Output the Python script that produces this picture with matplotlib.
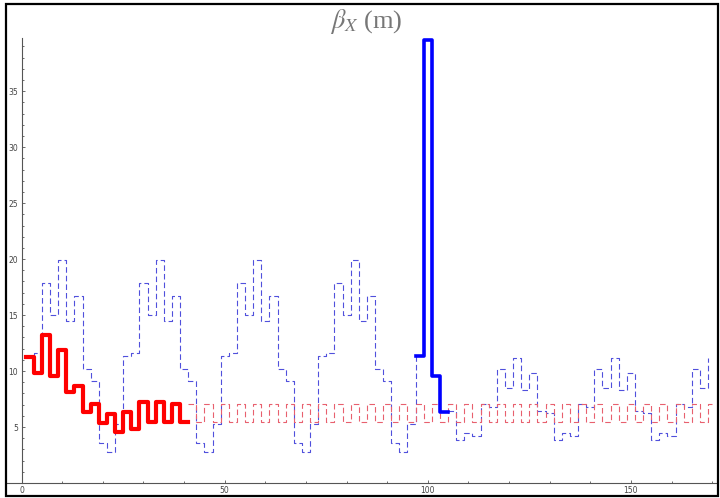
import numpy as np
import matplotlib
matplotlib.use('Agg')
import matplotlib.pyplot as plt
from matplotlib.patches import Rectangle
from matplotlib.ticker import MultipleLocator

plt.rcParams['mathtext.fontset'] = 'stix'
plt.rcParams['lines.scale_dashes'] = False

# beta_x (m) per 2 m slice, slices start at s = 1 m
# reference lattice, first part (4 cells of 24 m), last value closes the step
s_ref_a = np.arange(1, 98, 2)
beta_ref_a = [11.3, 11.6, 17.9, 15.05, 19.9, 14.5, 16.7, 10.2, 9.1, 3.6, 2.8, 5.27,
              11.3, 11.6, 17.9, 15.05, 19.9, 14.5, 16.7, 10.2, 9.1, 3.6, 2.8, 5.27,
              11.3, 11.6, 17.9, 15.05, 19.9, 14.5, 16.7, 10.2, 9.1, 3.6, 2.8, 5.27,
              11.3, 11.6, 17.9, 15.05, 19.9, 14.5, 16.7, 10.2, 9.1, 3.6, 2.8, 5.27,
              11.3]

# insertion
s_ins = np.arange(97, 106, 2)
beta_ins = [11.3, 39.6, 9.58, 6.3, 6.3]

# reference lattice after the insertion
s_ref_b = np.arange(105, 170, 2)
beta_ref_b = [6.45,
              3.84, 4.5, 4.2, 7.1, 6.8, 10.2, 8.45, 11.2, 8.3, 9.8, 6.4, 6.25,
              3.84, 4.5, 4.2, 7.1, 6.8, 10.2, 8.45, 11.2, 8.3, 9.8, 6.4, 6.25,
              3.84, 4.5, 4.2, 7.1, 6.8, 10.2, 8.45,
              11.2]

# matching section
s_match = np.arange(1, 42, 2)
beta_match = [11.28, 9.85, 13.2, 9.55, 11.9, 8.1, 8.66, 6.37, 7.05, 5.33,
              6.16, 4.55, 6.35, 4.85, 7.26, 5.48, 7.26, 5.48, 7.1, 5.45,
              5.45]

# FODO cells after matching
s_fodo = np.append(np.arange(41, 170, 2), 170)
beta_fodo = [7.1, 5.45, 7.1, 5.45, 7.1, 5.45, 7.1, 5.45, 7.1, 5.45,
             7.1, 5.45, 7.1, 5.45, 7.1, 5.45, 7.1, 5.45, 7.1, 5.45,
             7.1, 5.45, 7.1, 5.45, 7.1, 5.45, 7.1, 5.45, 7.1, 5.45,
             7.1, 5.45, 7.1, 5.45, 7.1, 5.45, 7.1, 5.45, 7.1, 5.45,
             7.1, 5.45, 7.1, 5.45, 7.1, 5.45, 7.1, 5.45, 7.1, 5.45,
             7.1, 5.45, 7.1, 5.45, 7.1, 5.45, 7.1, 5.45, 7.1, 5.45,
             7.1, 5.45, 7.1, 5.45, 7.1,
             7.1]

x_major = [0, 50, 100, 150]
y_major = [5, 10, 15, 20, 25, 30, 35]

fig = plt.figure(figsize=(7.2, 4.98), dpi=100)
ax = fig.add_axes([7 / 720, 15 / 498, 710 / 720, 445 / 498])

dash = (0, (4.0, 2.2))
ax.step(s_ref_a, beta_ref_a, where='post', color='#5050dc', lw=0.8, linestyle=dash)
ax.step(s_ref_b, beta_ref_b, where='post', color='#5050dc', lw=0.8, linestyle=dash)
ax.step(s_fodo, beta_fodo, where='post', color='#e8606e', lw=0.8, linestyle=dash)
ax.step(s_match, beta_match, where='post', color='#ff0000', lw=3.0)
ax.step(s_ins, beta_ins, where='post', color='#0000ff', lw=2.6, clip_on=False)

ax.set_xlim(-3.6, 171.2)
ax.set_ylim(0, 39.75)

for side in ['top', 'right']:
    ax.spines[side].set_visible(False)
ax.spines['left'].set_position(('data', 0))
for side in ['left', 'bottom']:
    ax.spines[side].set_color('#555555')
    ax.spines[side].set_linewidth(0.8)

ax.set_xticks(x_major)
ax.set_yticks(y_major)
ax.xaxis.set_minor_locator(MultipleLocator(10))
ax.yaxis.set_minor_locator(MultipleLocator(1))
ax.tick_params(which='both', direction='in', colors='#555555', width=0.6,
               labelsize=5.5, labelcolor='#444444', pad=2.5)
ax.tick_params(which='major', length=2.4)
ax.tick_params(which='minor', length=1.4)

fig.text(366 / 720, 1 - 22 / 498, r'$\beta_X$ (m)', ha='center', va='center',
         fontsize=19, color='#777777', family='Liberation Serif')

# black frame round the whole figure
fig.patches.append(Rectangle((6 / 720, 2 / 498), 712 / 720, 492 / 498,
                             transform=fig.transFigure, fill=False,
                             edgecolor='black', lw=1.6))

fig.savefig('out.png', dpi=100)
